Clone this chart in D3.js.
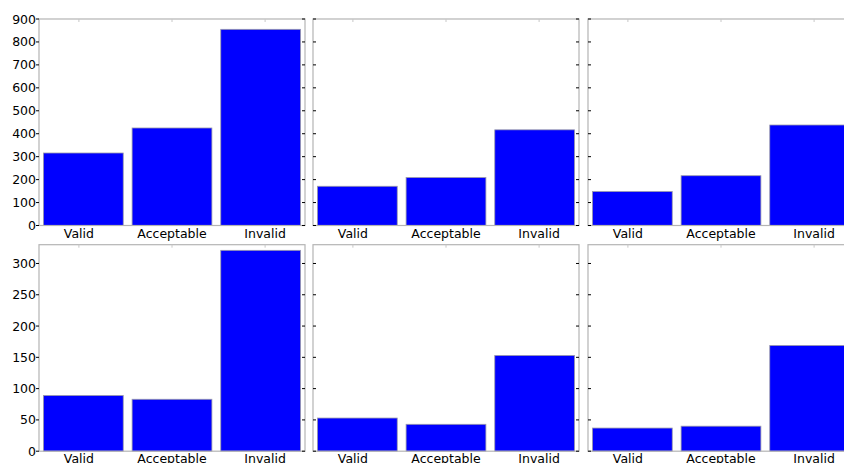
<!DOCTYPE html>
<html><head>
<meta charset="utf-8">
<script src="https://d3js.org/d3.v7.min.js"></script>
<style>
  body { margin: 0; background: #fff; overflow: hidden; }
  text { font-family: "DejaVu Sans", sans-serif; font-size: 12.5px; fill: #000; }
</style>
</head>
<body>
<svg id="grid" width="844" height="463"></svg>
<script>
  // categories and counts
  let categories = ["Valid", "Acceptable", "Invalid"];
  let topLeft = [316, 425, 855];
  let topMid = [171, 209, 417];
  let topRight = [148, 217, 438];
  let botLeft = [89, 83, 321];
  let botMid = [53, 43, 153];
  let botRight = [37, 40, 169];
  let topTicks = [0, 100, 200, 300, 400, 500, 600, 700, 800, 900];
  let botTicks = [0, 50, 100, 150, 200, 250, 300];
  let topMax = 900;
  let botMax = 330;

  let svg = d3.select("svg#grid");

  let colX = [39, 313, 588];
  let rowY = [19, 244.7];
  let axW = 266, axH = 206.5;

  let panels = [
    {row: 0, col: 0, values: topLeft, ticks: topTicks, max: topMax},
    {row: 0, col: 1, values: topMid, ticks: topTicks, max: topMax},
    {row: 0, col: 2, values: topRight, ticks: topTicks, max: topMax},
    {row: 1, col: 0, values: botLeft, ticks: botTicks, max: botMax},
    {row: 1, col: 1, values: botMid, ticks: botTicks, max: botMax},
    {row: 1, col: 2, values: botRight, ticks: botTicks, max: botMax}
  ];

  panels.forEach(p => {
    let g = svg.append("g")
      .attr("transform", "translate(" + colX[p.col] + "," + rowY[p.row] + ")");

    let x = d3.scaleLinear().domain([0, 3]).range([0, axW]);
    let y = d3.scaleLinear().domain([0, p.max]).range([axH, 0]);

    // bars
    g.selectAll("rect.bar")
      .data(p.values)
      .join("rect")
        .attr("class", "bar")
        .attr("x", (d, i) => x(i + 0.05))
        .attr("width", x(0.9) - x(0))
        .attr("y", d => y(d))
        .attr("height", d => y(0) - y(d))
        .style("fill", "#0000ff")
        .style("stroke", "#9a9aaa")
        .style("stroke-width", 0.8);

    // frame
    g.append("rect")
      .attr("x", 0).attr("y", 0)
      .attr("width", axW).attr("height", axH)
      .style("fill", "none")
      .style("stroke", "#b4b4b4")
      .style("stroke-width", 1.2);

    // y ticks on both sides
    p.ticks.forEach(t => {
      let ty = y(t);
      if (p.col == 0) {
        g.append("line").attr("x1", -3).attr("x2", 0).attr("y1", ty).attr("y2", ty)
          .style("stroke", "#000").style("stroke-width", 1);
        g.append("text").attr("x", -3).attr("y", ty).attr("dy", "0.36em")
          .attr("text-anchor", "end").text(t);
      } else {
        g.append("line").attr("x1", 0).attr("x2", 3).attr("y1", ty).attr("y2", ty)
          .style("stroke", "#000").style("stroke-width", 1);
      }
      g.append("line").attr("x1", axW - 3).attr("x2", axW).attr("y1", ty).attr("y2", ty)
        .style("stroke", "#000").style("stroke-width", 1);
    });

    // category labels (ticks sit slightly off the bar centres)
    categories.forEach((c, i) => {
      let tx = x(i * 1.05 + 0.45);
      g.append("line").attr("x1", tx).attr("x2", tx).attr("y1", 0).attr("y2", 3)
        .style("stroke", "#c8c8c8").style("stroke-width", 1);
      g.append("text").attr("x", tx).attr("y", axH + 12)
        .attr("text-anchor", "middle").text(c);
    });
  });
</script>
</body>
</html>
